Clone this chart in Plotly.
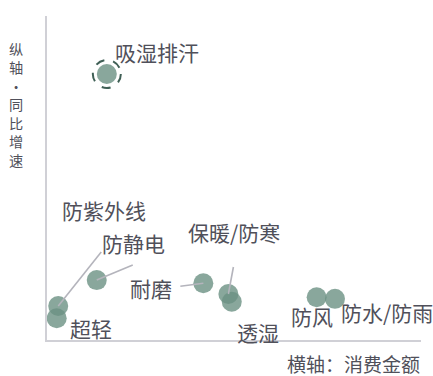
import plotly.graph_objects as go

# ---- data ----
names = ["吸湿排汗", "防紫外线", "超轻", "防静电", "耐磨", "保暖/防寒", "透湿", "防风", "防水/防雨"]
spend = [16.0, 3.0, 2.6, 13.3, 41.8, 48.5, 49.4, 72.1, 77.0]      # 横轴：消费金额
growth = [82.1, 10.5, 6.7, 18.5, 17.5, 14.2, 11.8, 13.2, 12.7]    # 纵轴：同比增速
highlight = "吸湿排汗"
x_title = "横轴：消费金额"
y_title = "纵轴·同比增速"

# ---- label layout (pixel offsets from each point; screen y down) ----
label_offset = {
    "吸湿排汗": (50, -22), "防紫外线": (46, -96), "超轻": (34, 10),
    "防静电": (37, -37), "耐磨": (-52, 5), "保暖/防寒": (6, -62),
    "透湿": (26, 30), "防风": (-5, 19), "防水/防雨": (52, 13),
}
leader = {
    "防紫外线": (43, -54), "防静电": (36, -15), "耐磨": (-23, 3), "保暖/防寒": (5, -27),
}

TEXT = "#50505a"
FONT = "Noto Sans CJK SC, Noto Sans, sans-serif"

fig = go.Figure()
fig.add_trace(go.Scatter(
    x=spend, y=growth, mode="markers",
    marker=dict(size=20, color="#6b9183", opacity=0.8, line=dict(width=0)),
    hoverinfo="skip", showlegend=False,
))

shapes = []
annotations = []
for n, xv, yv in zip(names, spend, growth):
    dx, dy = label_offset[n]
    annotations.append(dict(x=xv, y=yv, xref="x", yref="y", text=n, showarrow=False,
                            xshift=dx, yshift=-dy, xanchor="center", yanchor="middle",
                            font=dict(size=21, color=TEXT, family=FONT)))
    if n in leader:
        lx, ly = leader[n]
        shapes.append(dict(type="line", xref="x", yref="y", xsizemode="pixel", ysizemode="pixel",
                           xanchor=xv, yanchor=yv, x0=0, y0=0, x1=lx, y1=-ly,
                           line=dict(color="#b4b4bc", width=1.6), layer="above"))
    if n == highlight:
        shapes.append(dict(type="circle", xref="x", yref="y", xsizemode="pixel", ysizemode="pixel",
                           xanchor=xv, yanchor=yv, x0=-14, x1=14, y0=-14, y1=14,
                           line=dict(color="#3f5f55", width=2, dash="dash"), layer="above"))

# vertical y-axis title, one glyph per line
annotations.append(dict(x=0, y=1, xref="paper", yref="paper", text="<br>".join(y_title), showarrow=False,
                        xshift=-31.5, yshift=-21, xanchor="center", yanchor="top",
                        font=dict(size=14.2, color=TEXT, family=FONT)))

annotations.append(dict(x=1, y=0, xref="paper", yref="paper", text=x_title, showarrow=False,
                        xanchor="right", yanchor="middle", yshift=-23, borderpad=0,
                        font=dict(size=19, color=TEXT, family=FONT)))

fig.update_layout(
    width=433, height=376,
    margin=dict(l=47, r=12, t=16, b=36),
    paper_bgcolor="white", plot_bgcolor="white",
    xaxis=dict(range=[0, 100], showgrid=False, zeroline=False, showticklabels=False, ticks="",
               showline=True, linecolor="#d0d0d6", linewidth=2),
    yaxis=dict(range=[0, 100], showgrid=False, zeroline=False, showticklabels=False, ticks="",
               showline=True, linecolor="#d0d0d6", linewidth=2),
    shapes=shapes, annotations=annotations,
)

fig.write_html("out.html", config={"displayModeBar": False},
               post_script="document.body.style.margin='0';")
